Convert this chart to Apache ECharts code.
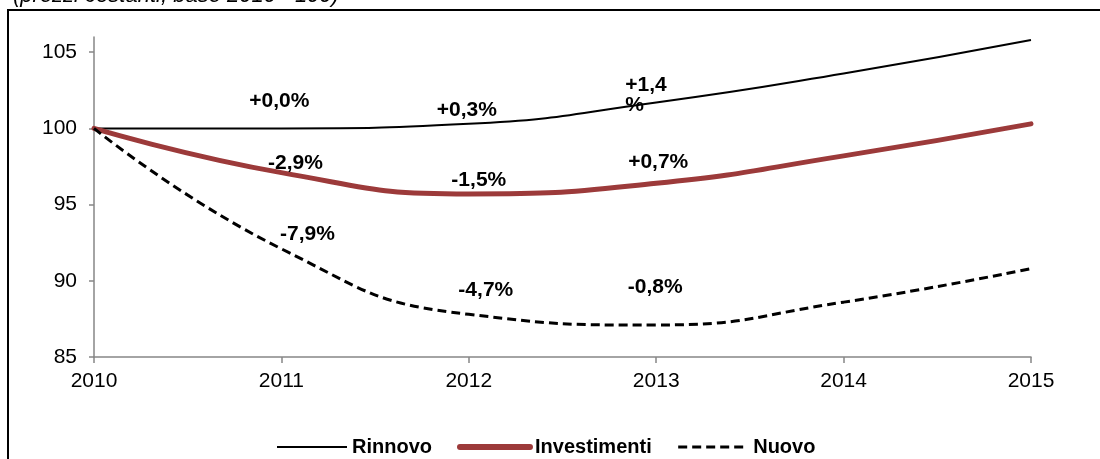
<!DOCTYPE html>
<html>
<head>
<meta charset="utf-8">
<script src="https://cdn.jsdelivr.net/npm/echarts@6/dist/echarts.min.js"></script>
<style>
  html, body { margin: 0; padding: 0; background: #fff; }
  #chart { width: 1100px; height: 459px; }
</style>
</head>
<body>
<div id="chart"></div>
<script>
// Data (indice, base 2010 = 100)
var years = ['2010', '2011', '2012', '2013', '2014', '2015'];
var rinnovo = [100, 100.0, 100.3, 101.7, 103.6, 105.8];
var investimenti = [100, 97.1, 95.7, 96.4, 98.2, 100.3];
var nuovo = [100, 92.1, 87.8, 87.1, 88.6, 90.8];

// year-on-year change labels
var rinnovoLabels = ['', '+0,0%', '+0,3%', '+1,4\n%', '', ''];
var investimentiLabels = ['', '-2,9%', '-1,5%', '+0,7%', '', ''];
var nuovoLabels = ['', '-7,9%', '-4,7%', '-0,8%', '', ''];

var yTicks = [85, 90, 95, 100, 105];

var FONT = '"Liberation Sans", Arial, sans-serif';

// label placement relative to the point (pixels)
var rinnovoOffsets = [null, [-2, -27], [-2, -14], [-31, -7], null, null];
var investimentiOffsets = [null, [14, -9], [10, -14], [2, -21], null, null];
var nuovoOffsets = [null, [26, -15], [17, -24], [-1, -38], null, null];

var myChart = echarts.init(document.getElementById('chart'));

// build line data with per-point labels
function buildData(values, labels, offsets) {
    var out = [];
    for (var i = 0; i < values.length; i++) {
        var item = { value: values[i] };
        if (labels[i]) {
            var multi = labels[i].indexOf('\n') >= 0;
            item.label = {
                show: true,
                position: 'inside',
                formatter: labels[i],
                offset: offsets[i],
                align: multi ? 'left' : 'center',
                verticalAlign: 'middle',
                color: '#000',
                fontFamily: FONT,
                fontWeight: 'bold',
                fontSize: 21,
                lineHeight: 20
            };
        }
        out.push(item);
    }
    return out;
}

function lineSeries(name, values, labels, offsets, lineStyle) {
    return {
        name: name,
        type: 'line',
        smooth: 0.5,
        symbol: 'circle',
        symbolSize: 1,
        itemStyle: { color: 'rgba(0,0,0,0)', borderWidth: 0 },
        lineStyle: lineStyle,
        emphasis: { disabled: true },
        data: buildData(values, labels, offsets)
    };
}

var legendText = { fontFamily: FONT, fontWeight: 'bold', fontSize: 20, color: '#000' };

var option = {
    animation: false,
    backgroundColor: '#fff',
    graphic: [
        {
            type: 'rect',
            shape: { x: 8, y: 10, width: 1200, height: 600 },
            style: { fill: 'none', stroke: '#000', lineWidth: 2 },
            silent: true
        },
        {
            type: 'text',
            left: 13,
            top: -15,
            style: {
                text: '(prezzi costanti; base 2010 =100)',
                fill: '#000',
                font: 'italic 22px ' + FONT
            },
            silent: true
        }
    ],
    grid: { left: 94, right: 69, top: 37, bottom: 102 },
    legend: {
        left: 271,
        top: 432,
        itemWidth: 70,
        itemHeight: 14,
        itemGap: 25,
        textStyle: legendText,
        data: [
            { name: 'Rinnovo', lineStyle: { width: 2 } },
            { name: 'Investimenti', lineStyle: { width: 6 } },
            { name: 'Nuovo', lineStyle: { width: 3 } }
        ]
    },
    xAxis: {
        type: 'category',
        boundaryGap: false,
        data: years,
        axisLine: { lineStyle: { color: '#868686', width: 1.5 } },
        axisTick: { show: true, alignWithLabel: true, length: 6, lineStyle: { color: '#868686', width: 1.5 } },
        axisLabel: { color: '#000', fontFamily: FONT, fontSize: 21, margin: 14 },
        splitLine: { show: false }
    },
    yAxis: {
        type: 'value',
        min: 85,
        max: 106,
        interval: 5,
        axisLine: { show: true, lineStyle: { color: '#868686', width: 1.5 } },
        axisTick: { show: true, length: 5, customValues: yTicks, lineStyle: { color: '#868686', width: 1.5 } },
        axisLabel: { color: '#000', fontFamily: FONT, fontSize: 21, margin: 17, customValues: yTicks },
        splitLine: { show: false }
    },
    series: [
        lineSeries('Rinnovo', rinnovo, rinnovoLabels, rinnovoOffsets,
            { color: '#000', width: 2 }),
        lineSeries('Investimenti', investimenti, investimentiLabels, investimentiOffsets,
            { color: '#9c3a3a', width: 5, cap: 'round' }),
        lineSeries('Nuovo', nuovo, nuovoLabels, nuovoOffsets,
            { color: '#000', width: 3, type: [9, 5] })
    ]
};

myChart.setOption(option);

window.onresize = function() {
    myChart.resize();
};
</script>
</body>
</html>
